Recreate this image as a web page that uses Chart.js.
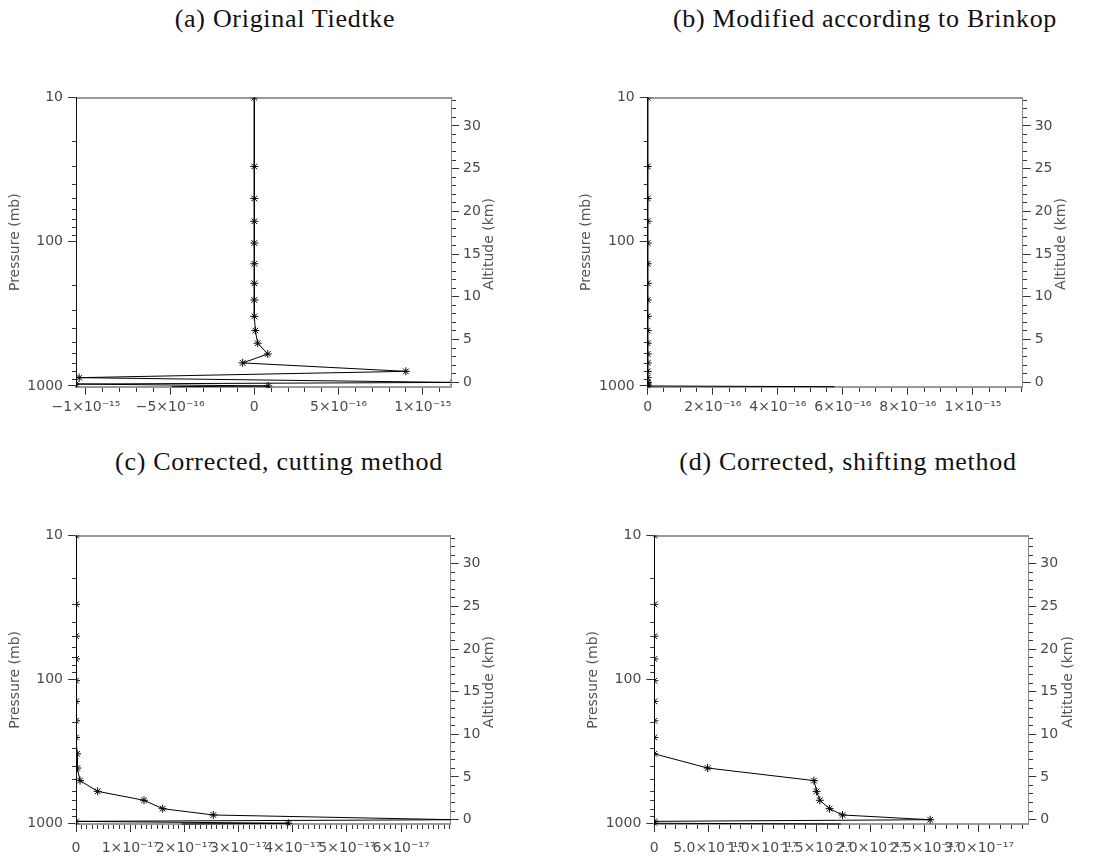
<!DOCTYPE html>
<html>
<head>
<meta charset="utf-8">
<script src="https://cdn.jsdelivr.net/npm/chart.js@4.4.0/dist/chart.umd.min.js"></script>
<style>
  body { margin: 0; background: #fff; width: 1115px; height: 860px; position: relative; overflow: hidden; }
  canvas { position: absolute; }
  .ttl { position: absolute; font-family: 'Liberation Serif', serif; font-size: 26px; letter-spacing: 0.7px; color: #111;
         white-space: nowrap; transform: translate(-50%, -50%); }
  .alt { position: absolute; font-family: 'DejaVu Sans', sans-serif; font-size: 14px; color: #555;
         white-space: nowrap; transform: translate(-50%, -50%) rotate(-90deg); }
</style>
</head>
<body>
<div class="ttl" style="left:285px;top:19px">(a) Original Tiedtke</div>
<div class="ttl" style="left:865px;top:19px">(b) Modified according to Brinkop</div>
<div class="ttl" style="left:279px;top:462px">(c) Corrected, cutting method</div>
<div class="ttl" style="left:848px;top:462px">(d) Corrected, shifting method</div>

<canvas id="chartA" width="557" height="380" style="left:0;top:40px"></canvas>
<canvas id="chartB" width="558" height="380" style="left:557px;top:40px"></canvas>
<canvas id="chartC" width="557" height="380" style="left:0;top:480px"></canvas>
<canvas id="chartD" width="558" height="380" style="left:557px;top:480px"></canvas>

<div class="alt" style="left:488px;top:244px">Altitude (km)</div>
<div class="alt" style="left:1060px;top:244px">Altitude (km)</div>
<div class="alt" style="left:488px;top:682px">Altitude (km)</div>
<div class="alt" style="left:1067px;top:682px">Altitude (km)</div>

<script>
// model levels (mb), shared by all four panels; the last one is the surface
const pressureLevels = [10, 30, 50, 72, 102, 142, 194, 253, 329, 413, 505, 600, 692, 792, 876, 945, 970, 1000, 1012];

// profile values on those levels
const tiedtkeValues  = [0, 0, 0, 0, 0, 0, 0, 0, 0, 6e-18, 2e-17, 8e-17, -6.9e-17, 9.0e-16, -1.04e-15, 1.18e-15, -1.06e-15, 8.3e-17, -4.9e-16];
const brinkopValues  = [0, 0, 0, 0, 0, 0, 0, 0, 0, 0, 0, 0, 0, 0, 0, 0, 0, 0, 5.74e-16];
const cuttingValues  = [0, 0, 0, 0, 0, 0, 0, 0, 2e-19, 2.5e-19, 7.4e-19, 4.0e-18, 1.255e-17, 1.6e-17, 2.535e-17, 7.0e-17, 0, 3.92e-17, 1.95e-17];
const shiftingValues = [0, 0, 0, 0, 0, 0, 0, 0, 0, 4.93e-18, 1.476e-17, 1.5e-17, 1.53e-17, 1.62e-17, 1.74e-17, 2.55e-17, 0, 0, 1.725e-17];

// tick labels
const pressureTicks = [10, 100, 1000];
const altitudeTicks = [0, 5, 10, 15, 20, 25, 30];
const xTicksA = [-1e-15, -5e-16, 0, 5e-16, 1e-15];
const xLabelsA = ['\u22121\u00d710\u207b\u00b9\u2075', '\u22125\u00d710\u207b\u00b9\u2076', '0', '5\u00d710\u207b\u00b9\u2076', '1\u00d710\u207b\u00b9\u2075'];
const xTicksB = [0, 2e-16, 4e-16, 6e-16, 8e-16, 1e-15];
const xLabelsB = ['0', '2\u00d710\u207b\u00b9\u2076', '4\u00d710\u207b\u00b9\u2076', '6\u00d710\u207b\u00b9\u2076', '8\u00d710\u207b\u00b9\u2076', '1\u00d710\u207b\u00b9\u2075'];
const xTicksC = [0, 1e-17, 2e-17, 3e-17, 4e-17, 5e-17, 6e-17];
const xLabelsC = ['0', '1\u00d710\u207b\u00b9\u2077', '2\u00d710\u207b\u00b9\u2077', '3\u00d710\u207b\u00b9\u2077', '4\u00d710\u207b\u00b9\u2077', '5\u00d710\u207b\u00b9\u2077', '6\u00d710\u207b\u00b9\u2077'];
const xTicksD = [0, 5e-18, 1e-17, 1.5e-17, 2e-17, 2.5e-17, 3e-17];
const xLabelsD = ['0', '5.0\u00d710\u207b\u00b9\u2078', '1.0\u00d710\u207b\u00b9\u2077', '1.5\u00d710\u207b\u00b9\u2077', '2.0\u00d710\u207b\u00b9\u2077', '2.5\u00d710\u207b\u00b9\u2077', '3.0\u00d710\u207b\u00b9\u2077'];

Chart.defaults.font.family = "'DejaVu Sans', sans-serif";
Chart.defaults.font.size = 14;
Chart.defaults.color = '#4a4a4a';

const MAJOR = 8;
// short dash for minor ticks: pattern starts at the axis line for bottom/right axes
const minorDash = ctx => (ctx.tick && ctx.tick.major) ? [] : [4, 40];

function makePanel(id, values, xMajor, xLabels, xMinor, xMin, xMax, g) {
  const canvas = document.getElementById(id);
  const W = canvas.width, H = canvas.height;
  const last = pressureLevels.length - 1;
  return new Chart(canvas, {
    type: 'scatter',
    data: {
      datasets: [{
        data: pressureLevels.map((p, i) => ({ x: values[i], y: p })),
        showLine: true,
        borderColor: '#000',
        borderWidth: 1,
        pointStyle: 'star',
        pointRadius: pressureLevels.map((p, i) => i === last ? 0 : 4),
        pointBorderColor: '#000',
        pointBorderWidth: 1,
        tension: 0,
        clip: { left: 0, right: 0, top: 0, bottom: 1.5 }
      }]
    },
    options: {
      responsive: false,
      animation: false,
      events: [],
      plugins: { legend: { display: false }, tooltip: { enabled: false } },
      layout: { padding: 0 },
      scales: {
        x: {
          type: 'linear', position: 'bottom', min: xMin, max: xMax,
          afterBuildTicks: s => {
            const t = [];
            const n0 = Math.ceil(xMin / xMinor - 1e-6), n1 = Math.floor(xMax / xMinor + 1e-6);
            for (let n = n0; n <= n1; n++) {
              const v = n * xMinor;
              const k = xMajor.findIndex(m => Math.abs(m - v) < xMinor * 0.01);
              t.push({ value: k >= 0 ? xMajor[k] : v, major: k >= 0 });
            }
            s.ticks = t;
          },
          afterFit: s => { s.height = H - g.bottom; s.paddingLeft = 0; s.paddingRight = 0; },
          ticks: {
            autoSkip: false, maxRotation: 0, padding: g.xPad,
            callback: v => { const k = xMajor.indexOf(v); return k >= 0 ? xLabels[k] : ''; }
          },
          grid: { drawOnChartArea: false, tickLength: MAJOR, tickColor: '#333', tickBorderDash: minorDash },
          border: { color: '#9a9a9a', width: 2 }
        },
        top: {
          type: 'linear', position: 'top',
          ticks: { display: false },
          grid: { display: false },
          border: { color: '#999', width: 2 },
          afterFit: s => { s.height = g.top; }
        },
        y: {
          type: 'logarithmic', position: 'left', reverse: true, min: 10, max: 1012,
          afterBuildTicks: s => {
            const t = [];
            [10, 100].forEach(d => { for (let m = 1; m < 10; m++) t.push({ value: m * d, major: m === 1 }); });
            t.push({ value: 1000, major: true });
            s.ticks = t;
          },
          afterFit: s => { s.width = g.left; s.paddingTop = 0; s.paddingBottom = 0; },
          ticks: {
            autoSkip: false, padding: 5,
            callback: v => pressureTicks.includes(v) ? String(v) : ''
          },
          grid: {
            drawOnChartArea: false, tickLength: MAJOR, tickColor: '#333',
            tickBorderDash: ctx => (ctx.tick && ctx.tick.major) ? [] : [4, 4],
            tickBorderDashOffset: ctx => (ctx.tick && ctx.tick.major) ? 0 : 4
          },
          border: { color: '#111', width: 1 },
          title: { display: true, text: 'Pressure (mb)', font: { size: 14 }, color: '#555', padding: { top: g.pTitle, bottom: 0 } }
        },
        alt: {
          type: 'linear', position: 'right', min: -0.52, max: 33.3,
          afterBuildTicks: s => {
            const t = [];
            for (let k = 0; k <= 33; k++) t.push({ value: k, major: k % 5 === 0 });
            s.ticks = t;
          },
          afterFit: s => { s.width = W - g.right; s.paddingTop = 0; s.paddingBottom = 0; },
          ticks: {
            autoSkip: false, padding: 4,
            callback: v => altitudeTicks.includes(v) ? String(v) : ''
          },
          grid: { drawOnChartArea: false, tickLength: MAJOR, tickColor: '#333', tickBorderDash: minorDash },
          border: { color: '#888', width: 1 }
        }
      }
    }
  });
}

makePanel('chartA', tiedtkeValues, xTicksA, xLabelsA, 1e-16, -1.059e-15, 1.168e-15,
  { left: 76, right: 451, top: 57.7, bottom: 346.7, xPad: 4, pTitle: 6.6 });
makePanel('chartB', brinkopValues, xTicksB, xLabelsB, 5e-17, 0, 1.153e-15,
  { left: 90.7, right: 465.7, top: 57.7, bottom: 346.7, xPad: 4, pTitle: 21.3 });
makePanel('chartC', cuttingValues, xTicksC, xLabelsC, 1e-18, 0, 6.917e-17,
  { left: 76, right: 450.7, top: 55.7, bottom: 344, xPad: 8, pTitle: 6.6 });
makePanel('chartD', shiftingValues, xTicksD, xLabelsD, 1e-18, 0, 3.457e-17,
  { left: 97.3, right: 471.3, top: 55.7, bottom: 344, xPad: 8, pTitle: 27.9 });
</script>
</body>
</html>
